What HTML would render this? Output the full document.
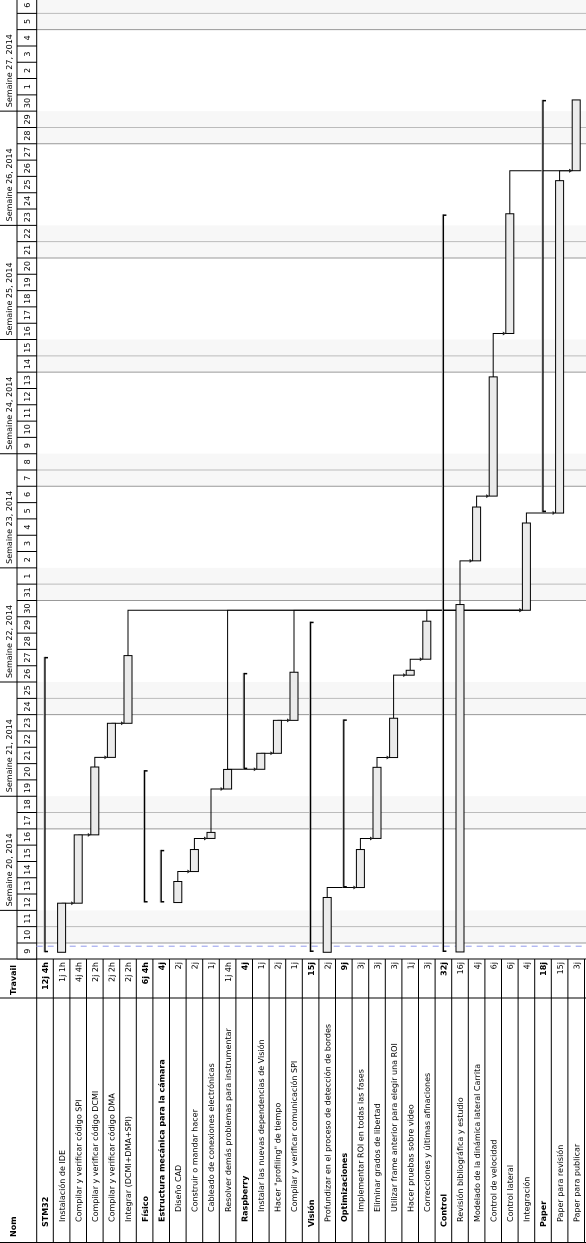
<!DOCTYPE html>
<html><head><meta charset="utf-8">
<style>
html,body{margin:0;padding:0;background:#fff;width:586px;height:1243px;overflow:hidden}
svg{display:block}
text{font-family:"DejaVu Sans","Liberation Sans",sans-serif;font-size:8px;fill:#000}
</style></head>
<body>
<svg id="chart" width="586" height="1243" xmlns="http://www.w3.org/2000/svg">
<g id="root" transform="translate(0,1243) rotate(-90)"></g>
</svg>
<script>
const taskNames = ["STM32","Instalación de IDE","Compilar y verificar código SPI","Compilar y verificar código DCMI","Compilar y verificar código DMA","Integrar (DCMI+DMA+SPI)","Físico","Estructura mecánica para la cámara","Diseño CAD","Construir o mandar hacer","Cableado de conexiones electrónicas","Resolver demás problemas para instrumentar","Raspberry","Instalar las nuevas dependencias de Visión","Hacer \"profiling\" de tiempo","Compilar y verificar comunicación SPI","Visión","Profundizar en el proceso de detección de bordes","Optimizaciones","Implementar ROI en todas las fases","Eliminar grados de libertad","Utilizar frame anterior para elegir una ROI","Hacer pruebas sobre video","Correcciones y últimas afinaciones","Control","Revisión bibliográfica y estudio","Modelado de la dinámica lateral Carrita","Control de velocidad","Control lateral","Integración","Paper","Paper para revisión","Paper para publicar"];
const taskLevels = [0,1,1,1,1,1,1,1,2,2,2,2,1,2,2,2,0,1,1,2,2,2,2,2,0,1,1,1,1,1,0,1,1];
const taskWork = ["12j 4h","1j 1h","4j 4h","2j 2h","2j 2h","2j 2h","6j 4h","4j","2j","2j","1j","1j 4h","4j","1j","2j","1j","15j","2j","9j","3j","3j","3j","1j","3j","32j","16j","4j","6j","6j","4j","18j","15j","3j"];
const taskSummary = [1,0,0,0,0,0,1,1,0,0,0,0,1,0,0,0,1,0,1,0,0,0,0,0,1,0,0,0,0,0,1,0,0];
const taskStart = [0.43,0.43,3.44,7.63,12.38,14.47,3.48,3.48,3.48,5.38,7.41,10.44,11.66,11.65,12.63,14.65,0.45,0.43,4.4,4.4,7.41,12.37,17.42,18.4,0.45,0.45,24.43,28.4,38.37,21.4,27.42,27.36,48.35];
const taskEnd = [18.54,3.44,7.63,11.79,14.47,18.62,11.6,6.71,4.77,6.73,7.78,11.64,17.56,12.63,14.65,17.6,20.7,3.79,14.71,6.73,11.77,14.78,17.72,20.73,45.67,21.75,27.73,35.71,45.71,26.75,52.69,47.74,52.69];
const linkFrom = [1,2,3,4,8,9,10,11,13,14,17,19,20,21,22,5,11,15,23,25,26,27,29,28,31];
const linkTo   = [2,3,4,5,9,10,11,13,14,15,19,20,21,22,23,29,29,29,29,26,27,28,31,32,32];
const dayLabels = [9,10,11,12,13,14,15,16,17,18,19,20,21,22,23,24,25,26,27,28,29,30,31,1,2,3,4,5,6,7,8,9,10,11,12,13,14,15,16,17,18,19,20,21,22,23,24,25,26,27,28,29,30,1,2,3,4,5,6];
const weekLabels = ["Semaine 20, 2014","Semaine 21, 2014","Semaine 22, 2014","Semaine 23, 2014","Semaine 24, 2014","Semaine 25, 2014","Semaine 26, 2014","Semaine 27, 2014"];
const weekStartDays = [3,10,17,24,31,38,45,52];
const saturdayDays = [1,8,15,22,29,36,43,50,57];
const todayDay = 0.8;

const NS="http://www.w3.org/2000/svg";
const root=document.getElementById('root');
const W=1243,H=586,HEAD=36.7,WEEKH=17,ROWH=16.6,NOMEND=245,TRAVEND=284,X0=283.7,DAYW=16.31;
function xd(d){return X0+d*DAYW;}
function rowY(i){return HEAD+i*ROWH;}
function rowC(i){return rowY(i)+ROWH/2;}
function mk(tag,attrs,parent){const e=document.createElementNS(NS,tag);for(const k in attrs)e.setAttribute(k,attrs[k]);(parent||root).appendChild(e);return e;}

// weekend shading
saturdayDays.forEach(function(d){
  const r=mk('rect',{x:xd(d),y:HEAD,width:2*DAYW,height:H-HEAD,fill:'#f7f7f7'});
  
  
  const l1=mk('line',{x1:xd(d),x2:xd(d),y1:HEAD,y2:H,stroke:'#999','stroke-width':1});
  
  
  const l2=mk('line',{x1:xd(d+1),x2:xd(d+1),y1:HEAD,y2:H,stroke:'#bbb','stroke-width':1});
  
  
});

// header: days
dayLabels.forEach(function(lab,d){
  const x=xd(d);
  const l=mk('line',{x1:x,x2:x,y1:WEEKH,y2:HEAD,stroke:'#000','stroke-width':1});
  
  
  const t=mk('text',{x:x+DAYW/2,y:WEEKH+13,'text-anchor':'middle'});
  t.textContent=lab;
  
  
});
weekLabels.forEach(function(lab,i){
  const x=xd(weekStartDays[i]);
  const l=mk('line',{x1:x,x2:x,y1:0,y2:WEEKH,stroke:'#000','stroke-width':1});
  
  
  const t=mk('text',{x:x+4,y:12});
  t.textContent=lab;
  
  
});
mk('line',{x1:X0,x2:W,y1:WEEKH,y2:WEEKH,stroke:'#000','stroke-width':1});
mk('line',{x1:0,x2:W,y1:HEAD,y2:HEAD,stroke:'#000','stroke-width':1});

// table
const th1=mk('text',{x:6,y:16,'font-weight':'bold'});th1.textContent='Nom';


const th2=mk('text',{x:248,y:16,'font-weight':'bold'});th2.textContent='Travail';


taskNames.forEach(function(name,i){
  const y=rowY(i);
  mk('line',{x1:0,x2:TRAVEND,y1:y+ROWH,y2:y+ROWH,stroke:'#000','stroke-width':1});
  const ind=[16,21,31][taskLevels[i]];
  const t=mk('text',{x:ind,y:y+11.5});
  if(taskSummary[i])t.setAttribute('font-weight','bold');
  t.textContent=name;
  
  
  const w=mk('text',{x:281,y:y+11.5,'text-anchor':'end'});
  if(taskSummary[i])w.setAttribute('font-weight','bold');
  w.textContent=taskWork[i];
  
  
});
[0.5,NOMEND,TRAVEND].forEach(function(x){mk('line',{x1:x,x2:x,y1:0,y2:H,stroke:'#000','stroke-width':1});});

// today line
const td=mk('line',{x1:xd(todayDay),x2:xd(todayDay),y1:HEAD,y2:H,stroke:'#a8aef0','stroke-width':1.3,'stroke-dasharray':'6,5'});



// links
linkFrom.forEach(function(s,k){
  const t=linkTo[k];
  const xs=xd(taskEnd[s]),ys=rowC(s),xt=xd(taskStart[t]),yt=rowY(t)+ROWH/2-4;
  const p=mk('polyline',{points:xs+','+ys+' '+xt+','+ys+' '+xt+','+yt,fill:'none',stroke:'#000','stroke-width':1});
  
  
  const a=mk('path',{d:'M'+(xt-2)+','+(yt-3)+' L'+(xt+2)+','+(yt-3)+' L'+xt+','+yt+' Z',fill:'#222'});
  
  
});

// bars
taskNames.forEach(function(name,i){
  const x1=xd(taskStart[i]),x2=xd(taskEnd[i]),c=rowC(i);
  if(taskSummary[i]){
    const g=mk('g',{});
    
    
    mk('line',{x1:x1,x2:x2,y1:c-1,y2:c-1,stroke:'#bbb','stroke-width':1},g);
    mk('line',{x1:x1,x2:x2,y1:c,y2:c,stroke:'#000','stroke-width':1.3},g);
    mk('rect',{x:x1,y:c,width:1.5,height:3,fill:'#000'},g);
    mk('rect',{x:x2-1.5,y:c,width:1.5,height:3,fill:'#000'},g);
  } else {
    const r=mk('rect',{x:x1,y:c-4,width:Math.max(x2-x1,1),height:8,fill:'#ebebeb',stroke:'#000','stroke-width':1});
    
    
  }
});
</script>
</body></html>
